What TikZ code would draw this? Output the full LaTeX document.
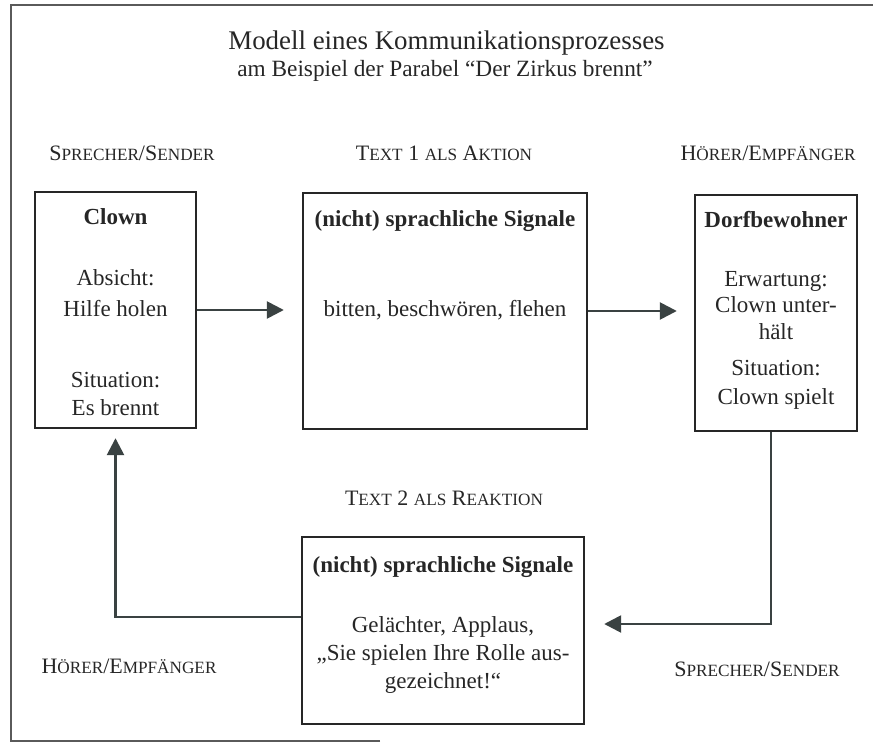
\documentclass[tikz,border=0pt]{standalone}
\usepackage{fontspec}
\setmainfont{Liberation Serif}
\usetikzlibrary{arrows.meta}
\definecolor{ink}{HTML}{262626}
\definecolor{arrowc}{HTML}{3A4242}
\definecolor{framec}{HTML}{5A5A5A}
\newcommand\smallc[1]{{\fontsize{17.2}{20}\selectfont #1}}
\begin{document}
\begin{tikzpicture}[x=1pt,y=-1pt,
  box/.style={draw=ink,line width=2.4pt,inner sep=0pt},
  txt/.style={font=\fontsize{23}{28}\selectfont,text=ink,anchor=base,inner sep=0pt},
  hd/.style={font=\fontsize{23}{28}\selectfont\bfseries,text=ink,anchor=base,inner sep=0pt},
  lab/.style={font=\fontsize{22}{26}\selectfont,text=ink,anchor=base,inner sep=0pt},
  arr/.style={draw=arrowc,line width=2.6pt,-{Triangle[length=17pt,width=17pt]}}]
\useasboundingbox (0,0) rectangle (873,743);
% frame
\draw[framec,line width=1.3pt] (380,741) -- (11,741) -- (11,5) -- (873,5);
% title
\node[anchor=base,inner sep=0pt,font=\fontsize{26.9}{30}\selectfont,text=ink] (title) at (446.5,50) {Modell eines Kommunikationsprozesses};
\node[anchor=base,inner sep=0pt,font=\fontsize{23.3}{28}\selectfont,text=ink] (subtitle) at (445,77) {am Beispiel der Parabel “Der Zirkus brennt”};
% top labels
\node[lab] (l1) at (132,161) {S\smallc{PRECHER}/S\smallc{ENDER}};
\node[lab] (l2) at (444,161) {T\smallc{EXT} 1 \smallc{ALS} A\smallc{KTION}};
\node[lab] (l3) at (768,161) {H\smallc{ÖRER}/E\smallc{MPFÄNGER}};
% boxes
\node[box,minimum width=161pt,minimum height=236pt] (clown) at (115.5,310) {};
\node[box,minimum width=284pt,minimum height=236pt] (mid) at (445,311) {};
\node[box,minimum width=162pt,minimum height=236pt] (dorf) at (776,313) {};
\node[box,minimum width=282pt,minimum height=187pt] (bottom) at (443,630.5) {};
% clown text
\node[hd] (c0) at (115.5,225) {Clown};
\node[txt] (c1) at (115.5,286) {Absicht:};
\node[txt] (c2) at (115.5,317) {Hilfe holen};
\node[txt] (c3) at (115.5,387) {Situation:};
\node[txt] (c4) at (115.5,415) {Es brennt};
% middle text
\node[hd] (m0) at (445,227) {(nicht) sprachliche Signale};
\node[txt] (m1) at (445,317) {bitten, beschwören, flehen};
% dorf text
\node[hd] (d0) at (776,228) {Dorfbewohner};
\node[txt] (d1) at (776,287) {Erwartung:};
\node[txt] (d2) at (776,313) {Clown unter-};
\node[txt] (d3) at (776,340) {hält};
\node[txt] (d4) at (776,375) {Situation:};
\node[txt] (d5) at (776,404) {Clown spielt};
% bottom text
\node[hd] (b0) at (443,572) {(nicht) sprachliche Signale};
\node[txt] (b1) at (443,632) {Gelächter, Applaus,};
\node[txt] (b2) at (443,660) {„Sie spielen Ihre Rolle aus-};
\node[txt] (b3) at (443,688) {gezeichnet!“};
% bottom labels
\node[lab] (l4) at (444,505) {T\smallc{EXT} 2 \smallc{ALS} R\smallc{EAKTION}};
\node[lab] (l5) at (129,673) {H\smallc{ÖRER}/E\smallc{MPFÄNGER}};
\node[lab] (l6) at (757,676) {S\smallc{PRECHER}/S\smallc{ENDER}};
% arrows
\coordinate (k1) at (771,624);
\coordinate (k2) at (117,617);
\draw[arr] (clown.east) -- ([xshift=-18pt]mid.west |- clown.east);
\draw[arr] (mid.east) -- ([xshift=-17pt]dorf.west |- mid.east);
\draw[arr] (dorf.south -| k1) |- ([xshift=19pt]bottom.east |- k1);
\draw[arr] (bottom.west |- k2) -| ([yshift=-9pt]clown.south);
\end{tikzpicture}
\end{document}
